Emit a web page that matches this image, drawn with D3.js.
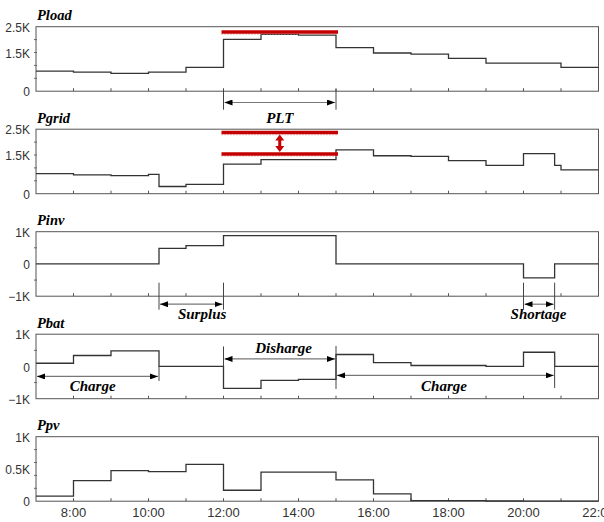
<!DOCTYPE html>
<html><head><meta charset="utf-8">
<script src="https://cdn.jsdelivr.net/npm/d3@7"></script>
<style>body{margin:0;background:#fff} svg{display:block}</style>
</head><body><svg id="c" width="604" height="522"></svg>
<script>
// ---------- data ----------
const hours = d3.range(7, 23);
const xLabelHours = [8, 10, 12, 14, 16, 18, 20, 22];
const panelNames = ["Pload", "Pgrid", "Pinv", "Pbat", "Ppv"];

const ploadStart = [7, 8, 9, 10, 11, 12, 13, 14, 15, 16, 17, 18, 19, 21];
const ploadValue = [780, 740, 690, 740, 920, 2010, 2200, 2170, 1690, 1480, 1440, 1270, 1090, 920];

const pgridStart = [7, 8, 9, 10, 10.28, 11, 12, 13, 15, 16, 17, 18, 19, 20, 20.83, 21];
const pgridValue = [780, 730, 700, 750, 280, 360, 1150, 1320, 1700, 1470, 1450, 1280, 1100, 1550, 1100, 920];

const pinvStart = [7, 10.28, 11, 12, 15, 20, 20.83];
const pinvValue = [0, 480, 570, 880, 0, -430, 0];

const pbatStart = [7, 8, 9, 10.28, 12, 13, 14, 15, 16, 17, 19, 20, 20.83];
const pbatValue = [100, 340, 480, 0, -680, -430, -400, 370, 120, 30, 0, 440, 0];

const ppvStart = [7, 8, 9, 10, 11, 12, 13, 15, 16, 17, 19, 20];
const ppvValue = [80, 320, 475, 460, 570, 170, 450, 330, 115, 10, 3, 0];

const yDomains = [[0, 2500], [0, 2500], [-1000, 1000], [-1000, 1000], [0, 1000]];
const yMinorTicks = [
  [500, 1000, 1500, 2000], [500, 1000, 1500, 2000],
  [-500, 500], [-500, 500], [200, 400, 600, 800]
];
const yLabelTicks = [
  [0, 1500, 2500], [0, 1500, 2500], [-1000, 0, 1000], [-1000, 0, 1000], [0, 500, 1000]
];
const yLabelTexts = [
  ["0", "1.5K", "2.5K"], ["0", "1.5K", "2.5K"], ["\u22121K", "0", "1K"], ["\u22121K", "0", "1K"], ["0", "0.5K", "1K"]
];

// annotations (data units)
const pltRange = [12, 15];
const pltLoadLimit = 2290;
const pltGridLimits = [2370, 1540];
const surplusRange = [10.28, 12];
const shortageRange = [20, 20.83];
const chargeRange1 = [7, 10.28];
const dischargeRange = [12, 15];
const chargeRange2 = [15, 20.83];

// ---------- layout ----------
const svg = d3.select("#c");
const x = d3.scaleLinear().domain([7, 22]).range([36, 598.5]);
const panelTop0 = 26.7, panelStep = 102.5, panelH = 64.5;
const series = [
  [ploadStart, ploadValue], [pgridStart, pgridValue], [pinvStart, pinvValue],
  [pbatStart, pbatValue], [ppvStart, ppvValue]
];
const ys = [];
const lineColor = "#333";
const red = "#c40000";

svg.append("defs").html(`
  <marker id="ah" viewBox="0 0 8 6" refX="8" refY="3" markerWidth="8" markerHeight="6" markerUnits="userSpaceOnUse" orient="auto-start-reverse">
    <path d="M0,0 L8,3 L0,6 Z" fill="#000"/></marker>`);

panelNames.forEach((name, i) => {
  const top = panelTop0 + i * panelStep;
  const y = d3.scaleLinear().domain(yDomains[i]).range([top + panelH, top]);
  ys.push(y);
  const g = svg.append("g");

  g.append("rect").attr("x", x(7)).attr("y", top).attr("width", x(22) - x(7)).attr("height", panelH)
    .attr("fill", "none").attr("stroke", "#555").attr("stroke-width", 1);

  g.selectAll(".xt").data(hours.slice(1, -1)).join("line")
    .attr("x1", d => x(d)).attr("x2", d => x(d))
    .attr("y1", top + panelH).attr("y2", top + panelH - 3)
    .attr("stroke", "#555").attr("stroke-width", 1);

  g.selectAll(".yt").data(yMinorTicks[i]).join("line")
    .attr("x1", x(7) - 2).attr("x2", x(7) + 1)
    .attr("y1", d => y(d)).attr("y2", d => y(d))
    .attr("stroke", "#666").attr("stroke-width", 1);

  g.selectAll(".yl").data(yLabelTicks[i]).join("text")
    .attr("x", x(7) - 6).attr("y", d => y(d) + 1)
    .attr("dy", "0.35em").attr("text-anchor", "end")
    .attr("font-family", "Liberation Sans, Arial, sans-serif").attr("font-size", 12)
    .attr("fill", "#333")
    .text((d, k) => yLabelTexts[i][k]);

  g.append("text").attr("x", x(7) + 1).attr("y", top - 6.5)
    .attr("font-family", "Liberation Serif, Times New Roman, serif")
    .attr("font-weight", "bold").attr("font-style", "italic").attr("font-size", 14.5)
    .attr("fill", "#000").text(name);

  const [st, vals] = series[i];
  const pts = st.map((t, k) => [t, vals[k]]);
  pts.push([22, vals[vals.length - 1]]);
  g.append("path").datum(pts)
    .attr("d", d3.line().x(d => x(d[0])).y(d => y(d[1])).curve(d3.curveStepAfter))
    .attr("fill", "none").attr("stroke", lineColor).attr("stroke-width", 1.3);
});

const bottom = panelTop0 + 4 * panelStep + panelH;
svg.selectAll(".xl").data(xLabelHours).join("text")
  .attr("x", d => x(d)).attr("y", bottom + 15.5)
  .attr("text-anchor", "middle")
  .attr("font-family", "Liberation Sans, Arial, sans-serif").attr("font-size", 13)
  .attr("fill", "#333").text(d => d + ":00");

// ---------- annotations ----------
const ann = svg.append("g");
function vline(t, y1, y2) {
  ann.append("line").attr("x1", x(t)).attr("x2", x(t)).attr("y1", y1).attr("y2", y2)
    .attr("stroke", "#444").attr("stroke-width", 1);
}
function harrow(t1, t2, yy) {
  ann.append("line").attr("x1", x(t1) + 1).attr("x2", x(t2) - 1).attr("y1", yy).attr("y2", yy)
    .attr("stroke", "#777").attr("stroke-width", 1.2)
    .attr("marker-start", "url(#ah)").attr("marker-end", "url(#ah)");
}
function label(txt, cx, yy) {
  ann.append("text").attr("x", cx).attr("y", yy).attr("text-anchor", "middle")
    .attr("font-family", "Liberation Serif, Times New Roman, serif")
    .attr("font-weight", "bold").attr("font-style", "italic").attr("font-size", 15)
    .attr("fill", "#000").text(txt);
}
function redLine(t1, t2, yy) {
  ann.append("line").attr("x1", x(t1) - 2).attr("x2", x(t2) + 2).attr("y1", yy + 2.2).attr("y2", yy + 2.2)
    .attr("stroke", "#d88").attr("stroke-width", 1).attr("stroke-dasharray", "1,2");
  ann.append("line").attr("x1", x(t1) - 2).attr("x2", x(t2) + 2).attr("y1", yy).attr("y2", yy)
    .attr("stroke", red).attr("stroke-width", 3.5);
}

// PLT
const b0 = ys[0](0);
vline(pltRange[0], b0 - 2, b0 + 18.5);
vline(pltRange[1], b0 - 2, b0 + 18.5);
harrow(pltRange[0], pltRange[1], b0 + 11.3);
label("PLT", x((pltRange[0] + pltRange[1]) / 2), b0 + 31.7);
redLine(pltRange[0], pltRange[1], ys[0](pltLoadLimit));
redLine(pltRange[0], pltRange[1], ys[1](pltGridLimits[0]));
redLine(pltRange[0], pltRange[1], ys[1](pltGridLimits[1]));

// red double arrow between grid limits
const ax = x((pltRange[0] + pltRange[1]) / 2);
const ay1 = ys[1](pltGridLimits[0]) + 2, ay2 = ys[1](pltGridLimits[1]) - 2;
ann.append("line").attr("x1", ax).attr("x2", ax).attr("y1", ay1 + 5).attr("y2", ay2 - 5)
  .attr("stroke", red).attr("stroke-width", 3);
ann.append("path").attr("d", `M${ax},${ay1} L${ax - 4.5},${ay1 + 6} L${ax + 4.5},${ay1 + 6} Z`).attr("fill", red);
ann.append("path").attr("d", `M${ax},${ay2} L${ax - 4.5},${ay2 - 6} L${ax + 4.5},${ay2 - 6} Z`).attr("fill", red);

// Surplus / Shortage
const b2 = ys[2](-1000);
[surplusRange, shortageRange].forEach(r => {
  vline(r[0], b2 - 13.5, b2 + 13.5);
  vline(r[1], b2 - 13.5, b2 + 13.5);
  harrow(r[0], r[1], b2 + 8);
});
label("Surplus", x(11.43), b2 + 23);
label("Shortage", x(20.4), b2 + 23);

// Battery
const z3 = ys[3](0);
vline(chargeRange1[1], z3, z3 + 14.5);
harrow(chargeRange1[0], chargeRange1[1], z3 + 10);
label("Charge", x(8.51), z3 + 25);

vline(dischargeRange[0], z3 - 20, z3);
vline(dischargeRange[1], z3 - 20.5, z3 + 22.5);
harrow(dischargeRange[0], dischargeRange[1], z3 - 7.5);
label("Disharge", x(13.6), z3 - 13.5);

vline(chargeRange2[1], z3 - 10.5, z3 + 21.5);
harrow(chargeRange2[0], chargeRange2[1], z3 + 9);
label("Charge", x(17.88), z3 + 25);
</script></body></html>
